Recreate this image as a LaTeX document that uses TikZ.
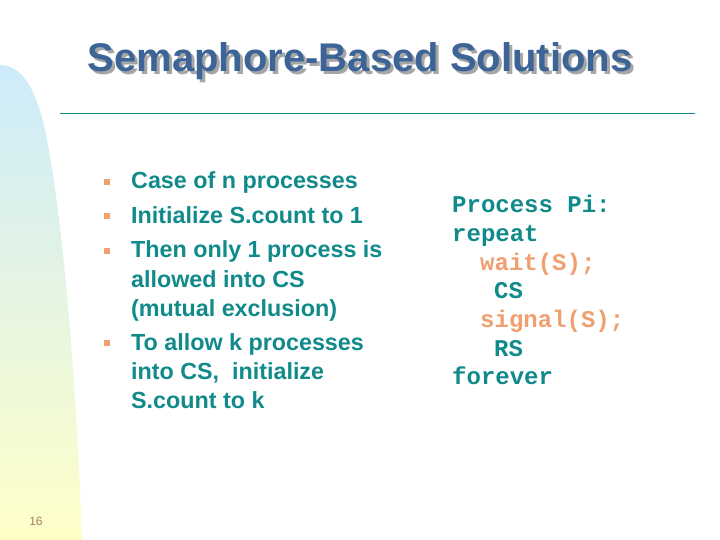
\documentclass[tikz,border=0pt]{standalone}
\usepackage{fontspec}
\setmainfont{Liberation Sans}
\newfontfamily\codefont{Liberation Mono}
\definecolor{teal1}{HTML}{108A8A}
\definecolor{orng}{HTML}{F0A070}
\definecolor{ttl}{HTML}{3C6496}
\definecolor{bandtop}{HTML}{CDEBFA}
\definecolor{bandbot}{HTML}{FFFFC8}
\begin{document}
\begin{tikzpicture}[x=1pt,y=-1pt,
  btxt/.style={anchor=base west,font=\bfseries\fontsize{23.3}{29}\selectfont,text=teal1,inner sep=0},
  bul/.style={fill=orng,minimum size=6pt,inner sep=0},
  code/.style={anchor=base west,font=\codefont\bfseries\fontsize{24}{29}\selectfont,text=teal1,inner sep=0},
  codeo/.style={code,text=orng}]
\useasboundingbox (0,0) rectangle (720,540);
\fill[white] (0,0) rectangle (720,540);
\shade[top color=bandtop,bottom color=bandbot] (0,65) .. controls (20,65) and (35,85) .. (45,130) .. controls (60,200) and (75,350) .. (82,540) -- (0,540) -- cycle;
\node[font=\bfseries\fontsize{40}{44}\selectfont,text=gray!70] (ts) at (363,64) {Semaphore-Based Solutions};
\node[font=\bfseries\fontsize{40}{44}\selectfont,text=ttl] (t) at (360,61) {Semaphore-Based Solutions};
\draw[teal1,line width=0.8pt] (60,113) coordinate (l1) -- (695,113) coordinate (l2);
\node[bul] (b1) at (107,182) {};
\node[bul] (b2) at (107,216) {};
\node[bul] (b3) at (107,251) {};
\node[bul] (b4) at (107,343) {};
\node[btxt] (s1) at (131,189) {Case of n processes};
\node[btxt] (s2) at (131,224) {Initialize S.count to 1};
\node[btxt] (s3) at (131,258) {Then only 1 process is};
\node[btxt] (s4) at (131,287) {allowed into CS};
\node[btxt] (s5) at (131,316) {(mutual exclusion)};
\node[btxt] (s6) at (131,350) {To allow k processes};
\node[btxt] (s7) at (131,379) {into CS,\ \ initialize};
\node[btxt] (s8) at (131,408) {S.count to k};
\node[code] (c1) at (452,212) {Process Pi:};
\node[code] (c2) at (452,241) {repeat};
\node[codeo] (c3) at (480,270) {wait(S);};
\node[code] (c4) at (494,298) {CS};
\node[codeo] (c5) at (480,327) {signal(S);};
\node[code] (c6) at (494,356) {RS};
\node[code] (c7) at (452,384) {forever};
\node[font=\fontsize{12}{14}\selectfont,text=gray!70!orange] (pg) at (36,521) {16};
\end{tikzpicture}
\end{document}
